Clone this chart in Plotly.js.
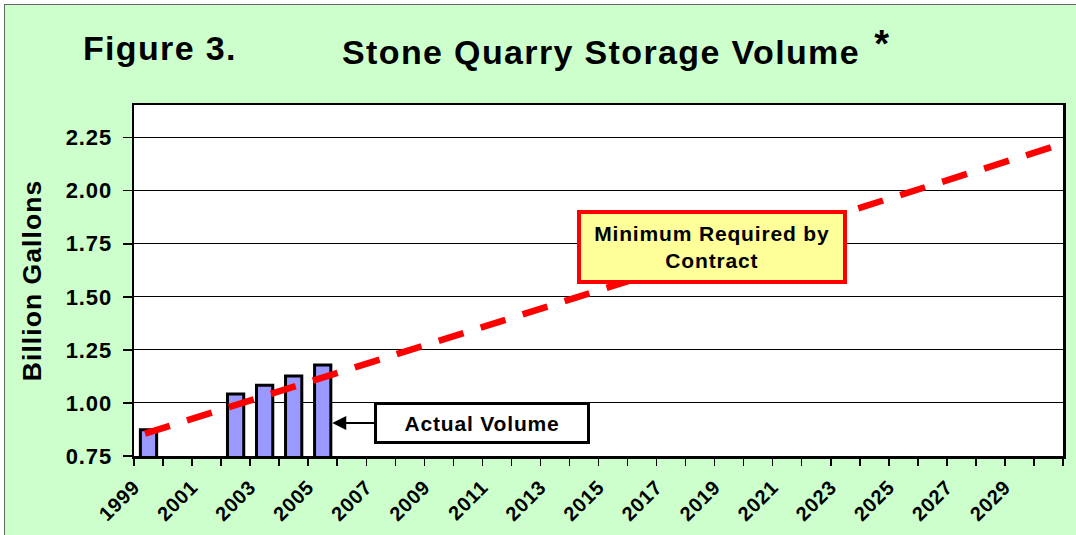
<!DOCTYPE html>
<html>
<head>
<meta charset="utf-8">
<script src="https://cdn.plot.ly/plotly-3.0.1.min.js"></script>
<style>
  html, body { margin: 0; padding: 0; background: #ffffff; }
  #frame { position: absolute; left: 4px; top: 4px; width: 1071px; height: 530px;
           border-left: 1px solid #666; border-top: 1px solid #666; overflow: hidden; }
  #chart { width: 1071px; height: 530px; }
  .main-svg text { letter-spacing: 0.04em; }
</style>
</head>
<body>
<div id="frame"><div id="chart"></div></div>
<script>
// ---- data ----
var years = [1999, 2002, 2003, 2004, 2005];
var actualVolume = [0.874, 1.042, 1.083, 1.127, 1.179];   // billion gallons
var minReqYears = [1998.88, 2030.5];
var minReqVolume = [0.855, 2.222];                         // minimum required by contract
var tickYears = [1999, 2001, 2003, 2005, 2007, 2009, 2011, 2013, 2015, 2017, 2019, 2021, 2023, 2025, 2027, 2029];
var firstYear = 1999, lastYear = 2030;
var yTickVals = [0.75, 1.00, 1.25, 1.50, 1.75, 2.00, 2.25];
var yTickText = ['0.75', '1.00', '1.25', '1.50', '1.75', '2.00', '2.25'];

// tick marks at category boundaries, labels on every other year
var xTickVals = [], xTickText = [];
for (var y = firstYear; y <= lastYear + 1; y++) {
  xTickVals.push(y - 0.5);
  xTickText.push(tickYears.indexOf(y) >= 0 ? String(y) : '');
}

var FONT = 'Liberation Sans, Arial, Helvetica, sans-serif';

var traces = [
  {
    type: 'bar', x: years, y: actualVolume, width: 0.56,
    marker: { color: '#9999FF', line: { color: '#000000', width: 3 } },
    hoverinfo: 'x+y', name: 'Actual Volume'
  },
  {
    type: 'scatter', mode: 'lines', x: minReqYears, y: minReqVolume,
    line: { color: '#FF0000', width: 6.5, dash: '26px,18px' },
    name: 'Minimum Required by Contract'
  }
];

var layout = {
  width: 1071, height: 530,
  margin: { l: 129, r: 13, t: 100, b: 79, pad: 0 },
  paper_bgcolor: '#CCFFCC', plot_bgcolor: '#FFFFFF',
  showlegend: false,
  font: { family: FONT, color: '#000000', weight: 'bold' },
  title: {
    text: 'Stone Quarry Storage Volume',
    font: { family: FONT, size: 34, color: '#000000', weight: 'bold' },
    xref: 'paper', x: 0.5027, xanchor: 'center',
    yref: 'container', y: 0.9114, yanchor: 'middle'
  },
  xaxis: {
    type: 'linear', range: [firstYear - 0.5, lastYear + 0.5],
    tickmode: 'array', tickvals: xTickVals, ticktext: xTickText,
    tickangle: -45, ticks: 'outside', ticklen: 7, tickwidth: 1.5, tickcolor: '#000000',
    ticklabelstandoff: 2,
    tickfont: { family: FONT, size: 20, color: '#000000', weight: 'bold' },
    showline: true, linecolor: '#000000', linewidth: 2.5, mirror: true,
    showgrid: false, zeroline: false, fixedrange: true
  },
  yaxis: {
    range: [0.75, 2.404],
    tickmode: 'array', tickvals: yTickVals, ticktext: yTickText,
    ticks: 'outside', ticklen: 9, tickwidth: 1.5, tickcolor: '#000000',
    ticklabelstandoff: 6,
    tickfont: { family: FONT, size: 22, color: '#000000', weight: 'bold' },
    showline: true, linecolor: '#000000', linewidth: 2.5, mirror: true,
    showgrid: true, gridcolor: '#000000', gridwidth: 1, zeroline: false,
    title: { text: 'Billion Gallons', standoff: 20,
             font: { family: FONT, size: 26.5, color: '#000000', weight: 'bold' } },
    fixedrange: true
  },
  annotations: [
    {
      text: 'Figure 3.', xref: 'paper', yref: 'paper', x: 0.02745, y: 1.1635,
      xanchor: 'center', yanchor: 'middle', showarrow: false,
      font: { family: FONT, size: 34, color: '#000000', weight: 'bold' }
    },
    {
      text: '*', xref: 'paper', yref: 'paper', x: 0.8062, y: 1.1749,
      xanchor: 'center', yanchor: 'middle', showarrow: false,
      font: { family: FONT, size: 38, color: '#000000', weight: 'bold' }
    },
    {
      text: 'Minimum Required by<br>Contract', xref: 'paper', yref: 'paper',
      x: 0.6222, y: 0.5954, xanchor: 'center', yanchor: 'middle', showarrow: false,
      bgcolor: '#FFFF99', bordercolor: '#FF0000', borderwidth: 4, borderpad: 1,
      width: 260, height: 64,
      font: { family: FONT, size: 21, color: '#000000', weight: 'bold' }
    },
    {
      text: 'Actual Volume', xref: 'x', yref: 'y', x: 2005.33, y: 0.905,
      ax: 150, ay: 0, showarrow: true, arrowhead: 2, arrowsize: 1.4, arrowwidth: 2,
      arrowcolor: '#000000', standoff: 0,
      bgcolor: '#FFFFFF', bordercolor: '#000000', borderwidth: 3, borderpad: 1,
      width: 208, height: 34,
      font: { family: FONT, size: 21, color: '#000000', weight: 'bold' }
    }
  ]
};

Plotly.newPlot('chart', traces, layout, { staticPlot: true, displayModeBar: false });
</script>
</body>
</html>
